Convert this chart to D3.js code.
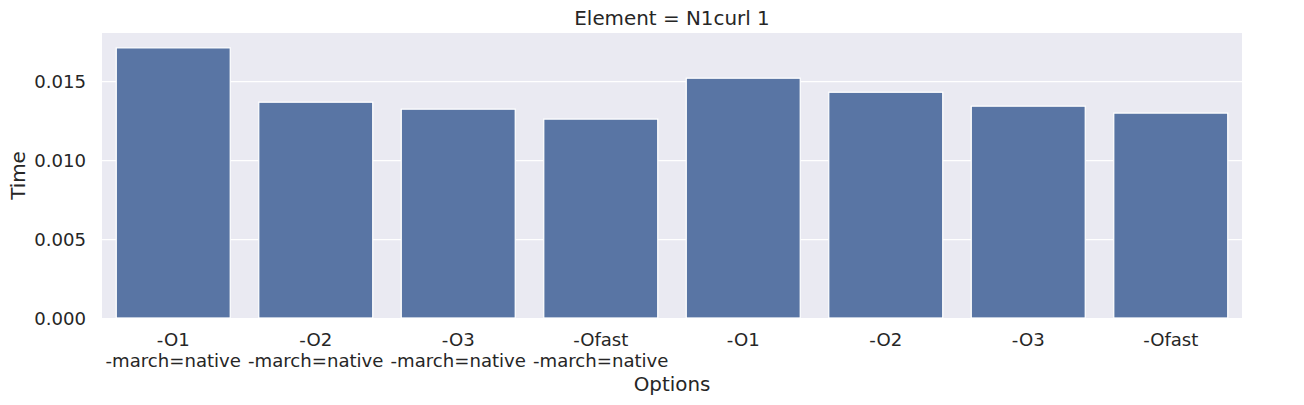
<!DOCTYPE html>
<html><head><meta charset="utf-8">
<script src="https://cdn.jsdelivr.net/npm/d3@7"></script>
<style>body{margin:0;background:#fff}svg{display:block}text{font-family:"DejaVu Sans",sans-serif;fill:#262626}</style>
</head><body>
<script>
const categories = ["-O1\n-march=native","-O2\n-march=native","-O3\n-march=native","-Ofast\n-march=native","-O1","-O2","-O3","-Ofast"];
const times = [0.01710,0.01366,0.01322,0.01259,0.01518,0.01429,0.01341,0.01297];
const yTicks = [0,0.005,0.010,0.015];
const title = "Element = N1curl 1";
const xTitle = "Options", yTitle = "Time";

const W=1304,H=405, m={l:102,r:62,t:33,b:87};
const fs = 18.1, fl = 19.9;
const svg=d3.select("body").append("svg").attr("width",W).attr("height",H);
const x=d3.scaleBand().domain(categories).range([m.l,W-m.r]).paddingInner(0.2).paddingOuter(0.1);
const y=d3.scaleLinear().domain([0,0.01804]).range([H-m.b,m.t]);
svg.append("rect").attr("x",m.l).attr("y",m.t).attr("width",W-m.l-m.r).attr("height",H-m.t-m.b).attr("fill","#eaeaf2");
const yAx=svg.append("g").attr("transform",`translate(${m.l},0)`).call(d3.axisLeft(y).tickValues(yTicks).tickFormat(d3.format(".3f")).tickSize(-(W-m.l-m.r)).tickPadding(16));
yAx.select(".domain").remove();
yAx.selectAll(".tick line").attr("stroke","#fff").attr("stroke-width",1.25);
yAx.selectAll(".tick text").attr("font-size",fs).attr("fill","#262626").attr("dy","0.35em");
svg.append("g").selectAll("rect").data(categories).join("rect")
 .attr("x",d=>x(d)).attr("width",x.bandwidth())
 .attr("y",(d,i)=>y(times[i])).attr("height",(d,i)=>y(0)-y(times[i]))
 .attr("fill","#5975a4").attr("stroke","#fff").attr("stroke-width",1.25);
const xAx=svg.append("g").attr("transform",`translate(0,${H-m.b})`).call(d3.axisBottom(x).tickSize(0).tickPadding(0));
xAx.select(".domain").remove();
xAx.selectAll(".tick text").each(function(d){
  const t=d3.select(this).text(null).attr("font-size",fs).attr("fill","#262626").attr("y",0).attr("dy",null);
  d.split("\n").forEach((s,i)=>t.append("tspan").attr("x",0).attr("y",28+i*21.3).text(s));
});
svg.append("text").attr("x",(m.l+W-m.r)/2).attr("y",390.5).attr("text-anchor","middle").attr("font-size",fl).text(xTitle);
svg.append("text").attr("transform",`translate(25,${(m.t+H-m.b)/2}) rotate(-90)`).attr("text-anchor","middle").attr("font-size",fl).text(yTitle);
svg.append("text").attr("x",(m.l+W-m.r)/2).attr("y",25).attr("text-anchor","middle").attr("font-size",fl).text(title);
</script>
</body></html>
